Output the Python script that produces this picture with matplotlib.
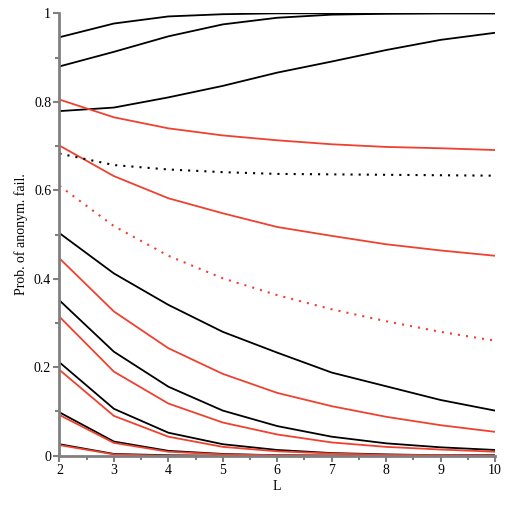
import numpy as np
import matplotlib
matplotlib.use("Agg")
import matplotlib.pyplot as plt
from matplotlib.ticker import MultipleLocator

plt.rcParams["font.family"] = ["Liberation Serif", "DejaVu Serif"]

L = [2, 3, 4, 5, 6, 7, 8, 9, 10]

# black solid curves
black_curves = [
    [0.946, 0.977, 0.993, 0.998, 1.0, 1.0, 1.0, 1.0, 1.0],
    [0.880, 0.913, 0.948, 0.975, 0.990, 0.997, 0.999, 1.0, 1.0],
    [0.779, 0.787, 0.810, 0.836, 0.866, 0.891, 0.917, 0.940, 0.956],
    [0.503, 0.412, 0.341, 0.280, 0.233, 0.188, 0.157, 0.126, 0.102],
    [0.351, 0.235, 0.156, 0.102, 0.067, 0.043, 0.028, 0.019, 0.013],
    [0.211, 0.106, 0.052, 0.026, 0.013, 0.006, 0.003, 0.001, 0.001],
    [0.098, 0.032, 0.011, 0.004, 0.001, 0.0, 0.0, 0.0, 0.0],
    [0.026, 0.004, 0.001, 0.0, 0.0, 0.0, 0.0, 0.0, 0.0],
]

# red solid curves
red_curves = [
    [0.805, 0.765, 0.740, 0.724, 0.713, 0.704, 0.698, 0.695, 0.691],
    [0.701, 0.632, 0.582, 0.548, 0.517, 0.497, 0.478, 0.464, 0.452],
    [0.446, 0.326, 0.243, 0.185, 0.142, 0.112, 0.088, 0.069, 0.054],
    [0.314, 0.190, 0.118, 0.075, 0.048, 0.030, 0.020, 0.014, 0.009],
    [0.194, 0.090, 0.043, 0.020, 0.010, 0.005, 0.002, 0.001, 0.0],
    [0.092, 0.029, 0.009, 0.003, 0.001, 0.0, 0.0, 0.0, 0.0],
    [0.024, 0.003, 0.0, 0.0, 0.0, 0.0, 0.0, 0.0, 0.0],
]

# dotted curves
black_dotted = [0.683, 0.657, 0.647, 0.641, 0.637, 0.636, 0.635, 0.634, 0.633]
red_dotted = [0.610, 0.519, 0.452, 0.401, 0.363, 0.331, 0.304, 0.280, 0.260]

RED = "#ee4130"
GRAY = "#808080"

fig = plt.figure(figsize=(5.21, 5.05), dpi=100)
ax = fig.add_axes([0.1142, 0.0976, 0.8358, 0.876])

for ys in black_curves:
    ax.plot(L, ys, color="black", lw=1.3)
for ys in red_curves:
    ax.plot(L, ys, color=RED, lw=1.3)
ax.plot(L, black_dotted, color="black", lw=1.5, linestyle=(0, (1, 2.9)))
ax.plot(L, red_dotted, color=RED, lw=1.5, linestyle=(0, (1, 2.9)))

ax.set_xlim(2, 10)
ax.set_ylim(0, 1)
ax.xaxis.set_major_locator(MultipleLocator(1))
ax.xaxis.set_minor_locator(MultipleLocator(0.5))
ax.set_yticks([0, 0.2, 0.4, 0.6, 0.8, 1.0])
ax.set_yticklabels(["0", "0.2", "0.4", "0.6", "0.8", "1"])
ax.yaxis.set_minor_locator(MultipleLocator(0.1))

for side in ["top", "right"]:
    ax.spines[side].set_visible(False)
for side in ["left", "bottom"]:
    ax.spines[side].set_color(GRAY)
    ax.spines[side].set_linewidth(2)
ax.tick_params(which="both", color=GRAY, width=1.5, labelsize=10, direction="out")
ax.tick_params(which="major", length=4, pad=2)
ax.tick_params(which="minor", length=3)

ax.set_xlabel("L", fontsize=10, labelpad=2)
ax.set_ylabel("Prob. of anonym. fail.", fontsize=10, labelpad=4)

fig.savefig("out.png", dpi=100)
